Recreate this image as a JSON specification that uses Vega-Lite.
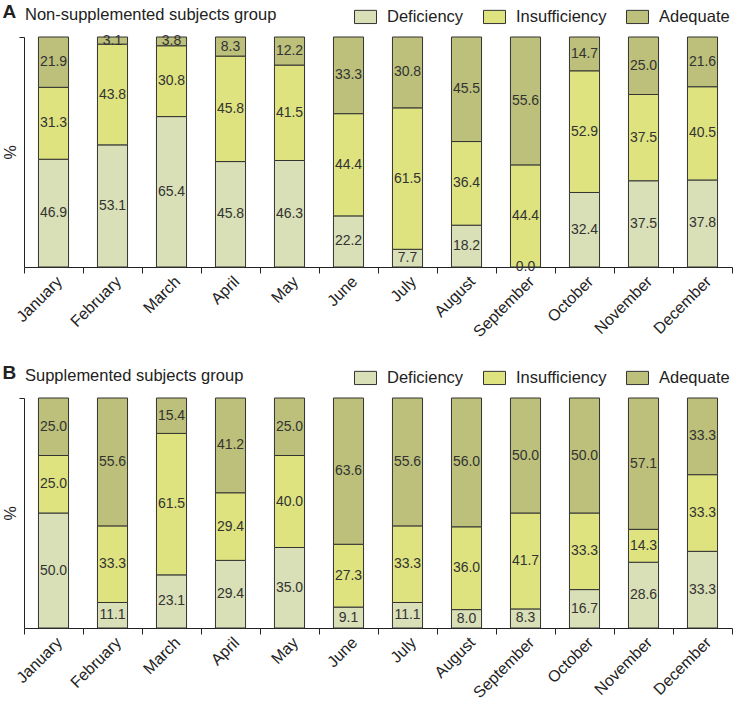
{
  "$schema": "https://vega.github.io/schema/vega-lite/v6.json",
  "padding": {"left": 2, "top": 3, "right": 0, "bottom": 0},
  "spacing": 24,
  "config": {
    "font": "Liberation Sans",
    "view": {"stroke": null},
    "axis": {"domainColor": "#222", "tickColor": "#222", "labelColor": "#222", "titleColor": "#222", "grid": false}
  },
  "datasets": {
    "vit": [
      {"group": "A", "month": "January", "status": "Deficiency", "level": 1, "pct": 46.9},
      {"group": "A", "month": "January", "status": "Insufficiency", "level": 2, "pct": 31.3},
      {"group": "A", "month": "January", "status": "Adequate", "level": 3, "pct": 21.9},
      {"group": "A", "month": "February", "status": "Deficiency", "level": 1, "pct": 53.1},
      {"group": "A", "month": "February", "status": "Insufficiency", "level": 2, "pct": 43.8},
      {"group": "A", "month": "February", "status": "Adequate", "level": 3, "pct": 3.1},
      {"group": "A", "month": "March", "status": "Deficiency", "level": 1, "pct": 65.4},
      {"group": "A", "month": "March", "status": "Insufficiency", "level": 2, "pct": 30.8},
      {"group": "A", "month": "March", "status": "Adequate", "level": 3, "pct": 3.8},
      {"group": "A", "month": "April", "status": "Deficiency", "level": 1, "pct": 45.8},
      {"group": "A", "month": "April", "status": "Insufficiency", "level": 2, "pct": 45.8},
      {"group": "A", "month": "April", "status": "Adequate", "level": 3, "pct": 8.3},
      {"group": "A", "month": "May", "status": "Deficiency", "level": 1, "pct": 46.3},
      {"group": "A", "month": "May", "status": "Insufficiency", "level": 2, "pct": 41.5},
      {"group": "A", "month": "May", "status": "Adequate", "level": 3, "pct": 12.2},
      {"group": "A", "month": "June", "status": "Deficiency", "level": 1, "pct": 22.2},
      {"group": "A", "month": "June", "status": "Insufficiency", "level": 2, "pct": 44.4},
      {"group": "A", "month": "June", "status": "Adequate", "level": 3, "pct": 33.3},
      {"group": "A", "month": "July", "status": "Deficiency", "level": 1, "pct": 7.7},
      {"group": "A", "month": "July", "status": "Insufficiency", "level": 2, "pct": 61.5},
      {"group": "A", "month": "July", "status": "Adequate", "level": 3, "pct": 30.8},
      {"group": "A", "month": "August", "status": "Deficiency", "level": 1, "pct": 18.2},
      {"group": "A", "month": "August", "status": "Insufficiency", "level": 2, "pct": 36.4},
      {"group": "A", "month": "August", "status": "Adequate", "level": 3, "pct": 45.5},
      {"group": "A", "month": "September", "status": "Deficiency", "level": 1, "pct": 0.0},
      {"group": "A", "month": "September", "status": "Insufficiency", "level": 2, "pct": 44.4},
      {"group": "A", "month": "September", "status": "Adequate", "level": 3, "pct": 55.6},
      {"group": "A", "month": "October", "status": "Deficiency", "level": 1, "pct": 32.4},
      {"group": "A", "month": "October", "status": "Insufficiency", "level": 2, "pct": 52.9},
      {"group": "A", "month": "October", "status": "Adequate", "level": 3, "pct": 14.7},
      {"group": "A", "month": "November", "status": "Deficiency", "level": 1, "pct": 37.5},
      {"group": "A", "month": "November", "status": "Insufficiency", "level": 2, "pct": 37.5},
      {"group": "A", "month": "November", "status": "Adequate", "level": 3, "pct": 25.0},
      {"group": "A", "month": "December", "status": "Deficiency", "level": 1, "pct": 37.8},
      {"group": "A", "month": "December", "status": "Insufficiency", "level": 2, "pct": 40.5},
      {"group": "A", "month": "December", "status": "Adequate", "level": 3, "pct": 21.6},
      {"group": "B", "month": "January", "status": "Deficiency", "level": 1, "pct": 50.0},
      {"group": "B", "month": "January", "status": "Insufficiency", "level": 2, "pct": 25.0},
      {"group": "B", "month": "January", "status": "Adequate", "level": 3, "pct": 25.0},
      {"group": "B", "month": "February", "status": "Deficiency", "level": 1, "pct": 11.1},
      {"group": "B", "month": "February", "status": "Insufficiency", "level": 2, "pct": 33.3},
      {"group": "B", "month": "February", "status": "Adequate", "level": 3, "pct": 55.6},
      {"group": "B", "month": "March", "status": "Deficiency", "level": 1, "pct": 23.1},
      {"group": "B", "month": "March", "status": "Insufficiency", "level": 2, "pct": 61.5},
      {"group": "B", "month": "March", "status": "Adequate", "level": 3, "pct": 15.4},
      {"group": "B", "month": "April", "status": "Deficiency", "level": 1, "pct": 29.4},
      {"group": "B", "month": "April", "status": "Insufficiency", "level": 2, "pct": 29.4},
      {"group": "B", "month": "April", "status": "Adequate", "level": 3, "pct": 41.2},
      {"group": "B", "month": "May", "status": "Deficiency", "level": 1, "pct": 35.0},
      {"group": "B", "month": "May", "status": "Insufficiency", "level": 2, "pct": 40.0},
      {"group": "B", "month": "May", "status": "Adequate", "level": 3, "pct": 25.0},
      {"group": "B", "month": "June", "status": "Deficiency", "level": 1, "pct": 9.1},
      {"group": "B", "month": "June", "status": "Insufficiency", "level": 2, "pct": 27.3},
      {"group": "B", "month": "June", "status": "Adequate", "level": 3, "pct": 63.6},
      {"group": "B", "month": "July", "status": "Deficiency", "level": 1, "pct": 11.1},
      {"group": "B", "month": "July", "status": "Insufficiency", "level": 2, "pct": 33.3},
      {"group": "B", "month": "July", "status": "Adequate", "level": 3, "pct": 55.6},
      {"group": "B", "month": "August", "status": "Deficiency", "level": 1, "pct": 8.0},
      {"group": "B", "month": "August", "status": "Insufficiency", "level": 2, "pct": 36.0},
      {"group": "B", "month": "August", "status": "Adequate", "level": 3, "pct": 56.0},
      {"group": "B", "month": "September", "status": "Deficiency", "level": 1, "pct": 8.3},
      {"group": "B", "month": "September", "status": "Insufficiency", "level": 2, "pct": 41.7},
      {"group": "B", "month": "September", "status": "Adequate", "level": 3, "pct": 50.0},
      {"group": "B", "month": "October", "status": "Deficiency", "level": 1, "pct": 16.7},
      {"group": "B", "month": "October", "status": "Insufficiency", "level": 2, "pct": 33.3},
      {"group": "B", "month": "October", "status": "Adequate", "level": 3, "pct": 50.0},
      {"group": "B", "month": "November", "status": "Deficiency", "level": 1, "pct": 28.6},
      {"group": "B", "month": "November", "status": "Insufficiency", "level": 2, "pct": 14.3},
      {"group": "B", "month": "November", "status": "Adequate", "level": 3, "pct": 57.1},
      {"group": "B", "month": "December", "status": "Deficiency", "level": 1, "pct": 33.3},
      {"group": "B", "month": "December", "status": "Insufficiency", "level": 2, "pct": 33.3},
      {"group": "B", "month": "December", "status": "Adequate", "level": 3, "pct": 33.3}
    ]
  },
  "data": {"name": "vit"},
  "resolve": {"legend": {"color": "independent"}},
  "vconcat": [
    {
      "width": 708,
      "height": 230,
      "title": {"text": "A", "anchor": "start", "frame": "bounds", "fontWeight": "bold", "fontSize": 19, "color": "#222", "offset": 0, "dy": 17},
      "transform": [{"filter": "datum.group === 'A'"}],
      "encoding": {
        "x": {"field": "month", "type": "nominal", "sort": ["January","February","March","April","May","June","July","August","September","October","November","December"],
          "scale": {"paddingInner": 0, "paddingOuter": 0},
          "axis": {"title": null, "labelAngle": -45, "labelAlign": "right", "labelBaseline": "top", "labelFontSize": 16, "tickBand": "extent", "tickSize": 6, "labelPadding": 0}}
      },
      "layer": [
        {
          "mark": {"type": "bar", "width": {"band": 0.51}, "stroke": "#333", "strokeWidth": 1},
          "encoding": {
            "y": {"field": "pct", "type": "quantitative", "stack": "normalize", "scale": {"domain": [0, 1]},
              "axis": {"title": "%", "titleFontSize": 16, "titleFontWeight": "normal", "labels": false, "values": [1], "tickSize": 5, "titlePadding": 0}},
            "order": {"field": "level", "sort": "ascending"},
            "color": {"field": "status", "type": "nominal",
              "scale": {"domain": ["Deficiency", "Insufficiency", "Adequate"], "range": ["#d9dfb6", "#dee380", "#bcc07a"]},
              "legend": {"orient": "none", "legendX": 1, "legendY": -32, "direction": "horizontal",
                "title": "Non-supplemented subjects group", "titleOrient": "left", "titleFontSize": 16.5, "titleFontWeight": "normal", "titleColor": "#222", "titleLimit": 500, "titlePadding": 77,
                "labelFontSize": 16.5, "labelColor": "#222", "labelOffset": 10, "columnPadding": 17, "padding": 0, "labelLimit": 300,
                "symbolType": "M-1,-0.6H1V0.6H-1Z", "symbolSize": 484, "symbolStrokeColor": "#333", "symbolStrokeWidth": 1, "symbolOpacity": 1}}
          }
        },
        {
          "transform": [
            {"stack": "pct", "groupby": ["month"], "sort": [{"field": "level", "order": "ascending"}], "offset": "normalize", "as": ["y0", "y1"]},
            {"fold": ["y0", "y1"], "as": ["edge", "pos"]},
            {"aggregate": [{"op": "mean", "field": "pos", "as": "mid"}], "groupby": ["month", "status", "pct"]}
          ],
          "mark": {"type": "text", "fontSize": 14, "color": "#333", "baseline": "middle"},
          "encoding": {
            "y": {"field": "mid", "type": "quantitative", "scale": {"domain": [0, 1]},
              "axis": {"title": "%", "titleFontSize": 16, "titleFontWeight": "normal", "labels": false, "values": [1], "tickSize": 5, "titlePadding": 0}},
            "text": {"field": "pct", "type": "quantitative", "format": ".1f"}
          }
        }
      ]
    },
    {
      "width": 708,
      "height": 230,
      "title": {"text": "B", "anchor": "start", "frame": "bounds", "fontWeight": "bold", "fontSize": 19, "color": "#222", "offset": 0, "dy": 17},
      "transform": [{"filter": "datum.group === 'B'"}],
      "encoding": {
        "x": {"field": "month", "type": "nominal", "sort": ["January","February","March","April","May","June","July","August","September","October","November","December"],
          "scale": {"paddingInner": 0, "paddingOuter": 0},
          "axis": {"title": null, "labelAngle": -45, "labelAlign": "right", "labelBaseline": "top", "labelFontSize": 16, "tickBand": "extent", "tickSize": 6, "labelPadding": 0}}
      },
      "layer": [
        {
          "mark": {"type": "bar", "width": {"band": 0.51}, "stroke": "#333", "strokeWidth": 1},
          "encoding": {
            "y": {"field": "pct", "type": "quantitative", "stack": "normalize", "scale": {"domain": [0, 1]},
              "axis": {"title": "%", "titleFontSize": 16, "titleFontWeight": "normal", "labels": false, "values": [1], "tickSize": 5, "titlePadding": 0}},
            "order": {"field": "level", "sort": "ascending"},
            "color": {"field": "status", "type": "nominal",
              "scale": {"domain": ["Deficiency", "Insufficiency", "Adequate"], "range": ["#d9dfb6", "#dee380", "#bcc07a"]},
              "legend": {"orient": "none", "legendX": 1, "legendY": -32, "direction": "horizontal",
                "title": "Supplemented subjects group", "titleOrient": "left", "titleFontSize": 16.5, "titleFontWeight": "normal", "titleColor": "#222", "titleLimit": 500, "titlePadding": 110,
                "labelFontSize": 16.5, "labelColor": "#222", "labelOffset": 10, "columnPadding": 17, "padding": 0, "labelLimit": 300,
                "symbolType": "M-1,-0.6H1V0.6H-1Z", "symbolSize": 484, "symbolStrokeColor": "#333", "symbolStrokeWidth": 1, "symbolOpacity": 1}}
          }
        },
        {
          "transform": [
            {"stack": "pct", "groupby": ["month"], "sort": [{"field": "level", "order": "ascending"}], "offset": "normalize", "as": ["y0", "y1"]},
            {"fold": ["y0", "y1"], "as": ["edge", "pos"]},
            {"aggregate": [{"op": "mean", "field": "pos", "as": "mid"}], "groupby": ["month", "status", "pct"]}
          ],
          "mark": {"type": "text", "fontSize": 14, "color": "#333", "baseline": "middle"},
          "encoding": {
            "y": {"field": "mid", "type": "quantitative", "scale": {"domain": [0, 1]},
              "axis": {"title": "%", "titleFontSize": 16, "titleFontWeight": "normal", "labels": false, "values": [1], "tickSize": 5, "titlePadding": 0}},
            "text": {"field": "pct", "type": "quantitative", "format": ".1f"}
          }
        }
      ]
    }
  ]
}
